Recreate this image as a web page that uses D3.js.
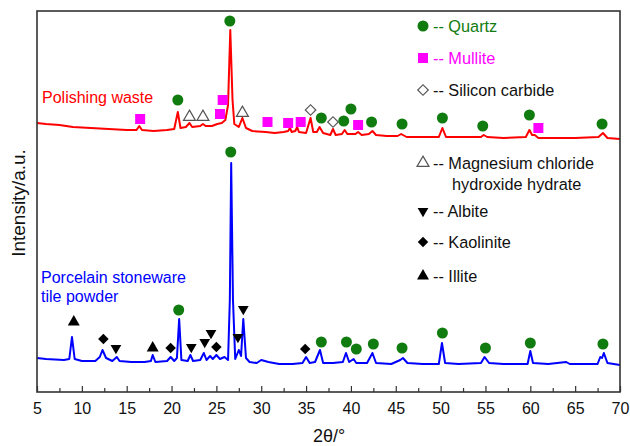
<!DOCTYPE html>
<html>
<head>
<meta charset="utf-8">
<script src="https://cdn.jsdelivr.net/npm/d3@7"></script>
<style>
  body { margin: 0; background: #fff; }
  svg { display: block; font-family: "Liberation Sans", Arial, Helvetica, sans-serif; }
</style>
</head>
<body>
<svg id="chart" width="630" height="446"></svg>
<script>
// 2theta (deg), intensity (a.u.)
const polishingWaste = [
  [5,269],[6,268],[7.5,267],[9,265],[11,264],[13,263],[15,262],[16.1,262],[16.4,266],[16.7,262],
  [18,261],[19.5,262],[20.3,263],[20.7,280],[21.0,264],[21.6,265],[22.0,269],[22.3,265],[23.2,266],
  [23.5,268],[23.8,266],[24.5,266],[25.1,268],[25.6,269],[26.0,272],[26.3,287],[26.55,362],[26.8,292],
  [27.0,268],[27.5,265],[27.9,274],[28.3,264],[29,261],[30.5,260],[31.5,259],[32.5,260],[33.0,261],
  [33.2,264],[33.4,260],[33.8,261],[34.0,265],[34.2,260],[35.0,259],[35.5,274],[35.8,260],[36.2,260],
  [36.5,265],[36.9,259],[37.7,257],[38.0,263],[38.3,257],[39.0,258],[39.3,262],[39.6,258],[40.5,258],
  [40.8,260],[41.2,257],[42.0,258],[42.4,261],[42.8,257],[44,256],[45.2,256],[45.6,258],[46.2,255],
  [48,255],[49.8,255],[50.2,264],[50.6,255],[52,255],[54.5,255],[54.8,257],[55.2,255],[57,254],
  [59.5,255],[59.9,262],[60.2,257],[60.5,257],[60.9,254],[63,254],[65,254],[67.6,255],[68.1,259],
  [68.6,254],[70,253]
];
const tilePowder = [
  [5,34],[6,33],[8,32],[8.6,33],[8.9,55],[9.2,33],[10,31],[11.5,31],[12.0,35],[12.3,42],[12.7,34],
  [13.4,31],[13.9,35],[14.2,31],[15.5,30],[17,30],[17.7,31],[17.9,37],[18.2,30],[19.5,31],[19.9,35],
  [20.3,31],[20.6,34],[20.85,73],[21.1,32],[21.8,31],[22.1,37],[22.4,31],[23.2,32],[23.6,39],[23.9,32],
  [24.3,36],[24.6,33],[25.0,37],[25.4,33],[25.9,35],[26.3,32],[26.5,92],[26.65,229],[26.85,92],[27.1,33],
  [27.5,42],[27.75,36],[28.0,73],[28.3,34],[28.7,30],[29.5,29],[30.0,32],[30.8,30],[32,28],[33.5,28],
  [34.6,29],[35.0,35],[35.4,29],[36.0,30],[36.55,42],[36.9,29],[38,29],[39.1,30],[39.45,39],[39.8,30],
  [40.3,33],[40.6,29],[41.8,29],[42.4,39],[42.8,29],[44.5,28],[45.5,32],[45.8,34],[46.3,29],[48,28],
  [49.8,28],[50.15,49],[50.5,29],[52,28],[54.5,29],[54.9,35],[55.4,29],[57,28],[59.7,28],[60.0,41],
  [60.3,29],[62,28],[64.0,30],[64.4,28],[67.5,28],[67.8,35],[68.0,34],[68.2,39],[68.6,29],[70,27]
];

// phase markers [2theta, height]
const quartzMarks = [
  [20.7,292],[26.5,371],[36.7,274],[39.2,271],[40.0,283],[42.3,270],[45.7,268],[50.2,274],[54.7,266],[59.9,277],[68.0,268],
  [20.8,82],[26.6,240],[36.7,50],[39.5,50],[40.6,43],[42.5,48],[45.7,44],[50.2,59],[55.0,44],[60.0,49],[68.1,48]
];
const mulliteMarks = [[16.5,273],[25.4,278],[25.7,292],[30.7,270],[33.0,269],[34.4,270],[40.8,267],[60.9,264]];
const sicMarks = [[35.5,282],[38.0,270]];
const mchhMarks = [[22.0,275],[23.5,275],[27.9,279]];
const albiteMarks = [[13.8,44],[22.2,45],[23.7,50],[24.4,59],[27.4,55],[28.0,83]];
const kaoliniteMarks = [[12.4,53],[19.9,44],[25.0,45],[34.9,43]];
const illiteMarks = [[9.1,70],[17.9,44]];

const xTicks = [5,10,15,20,25,30,35,40,45,50,55,60,65,70];
const xMinor = [7.5,12.5,17.5,22.5,27.5,32.5,37.5,42.5,47.5,52.5,57.5,62.5,67.5];

const legendItems = [
  {key:"quartz", lines:["-- Quartz"], color:"#107c10"},
  {key:"mullite", lines:["-- Mullite"], color:"#ff00ff"},
  {key:"sic", lines:["-- Silicon carbide"], color:"#111"},
  {key:"mchh", lines:["-- Magnesium chloride", "hydroxide hydrate"], color:"#111"},
  {key:"albite", lines:["-- Albite"], color:"#111"},
  {key:"kaolinite", lines:["-- Kaolinite"], color:"#111"},
  {key:"illite", lines:["-- Illite"], color:"#111"}
];
const legendY = [26, 58, 90, 163, 211, 242, 276];

const svg = d3.select("#chart");
const m = {l:37, r:620, t:11, b:392};

const X = d3.scaleLinear().domain([5,70]).range([m.l, m.r]);
const Y = d3.scaleLinear().domain([0,381]).range([m.b, m.t]);
const line = d3.line().x(d=>X(d[0])).y(d=>Y(d[1]));

const sym = {
  quartz: {path:d3.symbol(d3.symbolCircle, 95)(), fill:"#107c10", stroke:"none", rot:0},
  mullite: {path:d3.symbol(d3.symbolSquare, 100)(), fill:"#ff00ff", stroke:"none", rot:0},
  sic: {path:d3.symbol(d3.symbolSquare, 55)(), fill:"#fff", stroke:"#555", rot:45},
  mchh: {path:d3.symbol(d3.symbolTriangle, 62)(), fill:"#fff", stroke:"#555", rot:0},
  albite: {path:d3.symbol(d3.symbolTriangle, 50)(), fill:"#000", stroke:"none", rot:180},
  kaolinite: {path:d3.symbol(d3.symbolSquare, 55)(), fill:"#000", stroke:"none", rot:45},
  illite: {path:d3.symbol(d3.symbolTriangle, 62)(), fill:"#000", stroke:"none", rot:0}
};

// curves
svg.append("path").datum(polishingWaste)
  .attr("d", line).attr("fill","none").attr("stroke","#ff0000").attr("stroke-width",2)
  .attr("stroke-linejoin","round");
svg.append("path").datum(tilePowder)
  .attr("d", line).attr("fill","none").attr("stroke","#0000ff").attr("stroke-width",2)
  .attr("stroke-linejoin","round");

// markers
const drawMarks = (data, key) => {
  const s = sym[key];
  svg.append("g").selectAll("path").data(data).enter().append("path")
    .attr("d", s.path)
    .attr("transform", d => `translate(${X(d[0])},${Y(d[1])}) rotate(${s.rot})`)
    .attr("fill", s.fill).attr("stroke", s.stroke).attr("stroke-width", 1.2);
};
drawMarks(quartzMarks, "quartz");
drawMarks(mulliteMarks, "mullite");
drawMarks(sicMarks, "sic");
drawMarks(mchhMarks, "mchh");
drawMarks(albiteMarks, "albite");
drawMarks(kaoliniteMarks, "kaolinite");
drawMarks(illiteMarks, "illite");

// legend
const lg = svg.append("g");
legendItems.forEach((it, i) => {
  const s = sym[it.key];
  const y = legendY[i];
  lg.append("path").attr("d", s.path)
    .attr("transform", `translate(423,${y}) rotate(${s.rot})`)
    .attr("fill", s.fill).attr("stroke", s.stroke).attr("stroke-width", 1.2);
  it.lines.forEach((t, j) => {
    lg.append("text").attr("x", j === 0 ? 433 : 452).attr("y", y + 6 + j*21)
      .attr("font-size", 16.3).attr("fill", it.color).text(t);
  });
});

// series labels
svg.append("text").attr("x", 42).attr("y", 103).attr("font-size", 16).attr("fill", "#ff0000")
  .text("Polishing waste");
svg.append("text").attr("x", 41).attr("y", 283).attr("font-size", 16).attr("fill", "#0000ff")
  .text("Porcelain stoneware");
svg.append("text").attr("x", 41).attr("y", 302).attr("font-size", 16).attr("fill", "#0000ff")
  .text("tile powder");

// axes
const xMinorAxis = d3.axisBottom(X).tickValues(xMinor).tickSize(-4).tickFormat("");
const xAxis = d3.axisBottom(X).tickValues(xTicks).tickSize(-6).tickPadding(11).tickFormat(d3.format("d"));
svg.append("g").attr("transform", `translate(0,${m.b})`).call(xMinorAxis)
  .call(g => g.select(".domain").remove())
  .selectAll("line").attr("stroke", "#333").attr("stroke-width", 1.2);
const gx = svg.append("g").attr("transform", `translate(0,${m.b})`).call(xAxis);
gx.select(".domain").remove();
gx.selectAll("line").attr("stroke", "#333").attr("stroke-width", 1.2);
gx.selectAll("text").attr("font-size", 16).attr("fill", "#111")
  .attr("font-family", "Liberation Sans, Arial, sans-serif");

// frame
svg.append("rect").attr("x", m.l).attr("y", m.t).attr("width", m.r - m.l).attr("height", m.b - m.t)
  .attr("fill", "none").attr("stroke", "#333").attr("stroke-width", 1.6);

// axis titles
svg.append("text").attr("x", 329).attr("y", 442).attr("text-anchor", "middle")
  .attr("font-size", 18).attr("fill", "#111").text("2θ/°");
svg.append("text").attr("transform", "translate(25,203) rotate(-90)").attr("text-anchor", "middle")
  .attr("font-size", 19).attr("fill", "#111").text("Intensity/a.u.");
</script>
</body>
</html>
